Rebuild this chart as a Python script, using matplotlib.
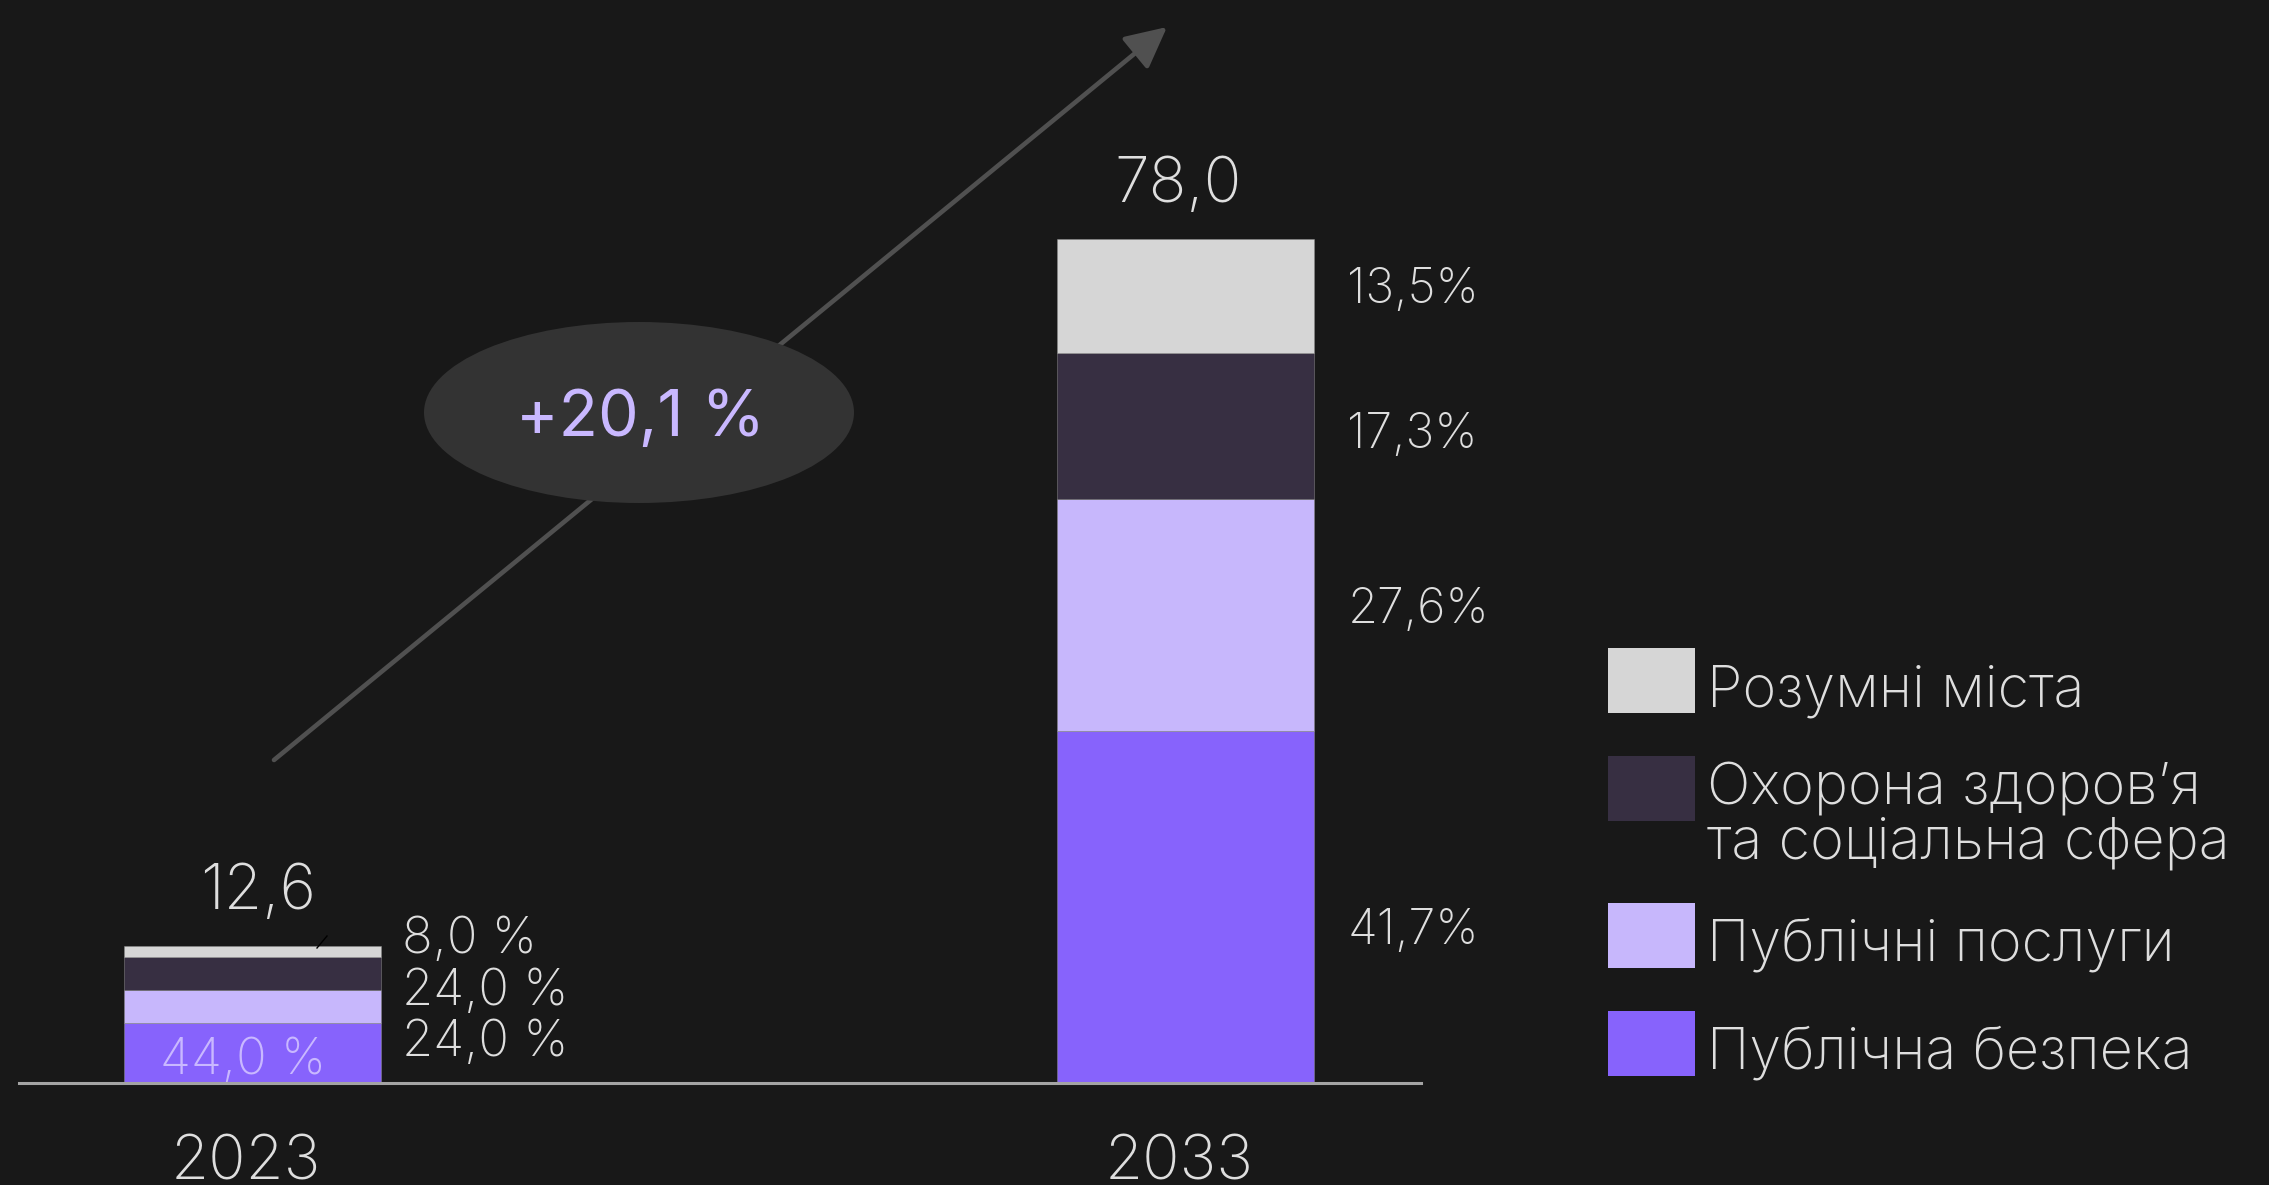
import matplotlib
matplotlib.use("Agg")
import numpy as np
import matplotlib.pyplot as plt
from matplotlib.patches import Ellipse, Rectangle, FancyArrowPatch

## chart data
years = ["2023", "2033"]
totals = [12.6, 78.0]
segments = ["Публічна безпека", "Публічні послуги",
            "Охорона здоров’я\nта соціальна сфера", "Розумні міста"]
shares_2023 = [44.0, 24.0, 24.0, 8.0]
shares_2033 = [41.7, 27.6, 17.3, 13.5]
growth_label = "+20,1 %"

colors = ["#8763fc", "#c7b7fc", "#372f42", "#d6d6d6"]
bg = "#181818"
txt = "#dedede"
lilac = "#c9b8ff"

plt.rcParams['font.family'] = ['Inter', 'DejaVu Sans']

def fmt(v):
    return f"{v:.1f}".replace(".", ",")

## layout in pixels of the 2269x1185 canvas
W, H = 2269, 1185
PT = 0.72                    # points per pixel at dpi 100
base_px = 1082.5             # y of the bar baseline (from top)
ppu = 10.8                   # pixels per value unit
x0_px, x1_px = 252, 1185     # centres of the two bars
unit = x1_px - x0_px
bar_w = 257 / unit

fig = plt.figure(figsize=(W / 100, H / 100), dpi=100)
fig.patch.set_facecolor(bg)
ax = fig.add_axes([0, 0, 1, 1])
ax.set_facecolor(bg)
ax.axis('off')
ax.set_xlim(-x0_px / unit, (W - x0_px) / unit)
ax.set_ylim(-(H - base_px) / ppu, base_px / ppu)

def px(x, y):
    return ((x - x0_px) / unit, (base_px - y) / ppu)

xs = np.arange(len(years))
shares = np.array([shares_2023, shares_2033]).T   # rows = segments
totals_arr = np.array(totals)

## stacked bars
bottoms = np.zeros(len(years))
mids = []
for i, name in enumerate(segments):
    vals = totals_arr * shares[i] / 100
    ax.bar(xs, vals, width=bar_w, bottom=bottoms, color=colors[i],
           edgecolor=(0.55, 0.55, 0.55, 0.5), linewidth=0.7, zorder=2)
    mids.append(bottoms + vals / 2)
    bottoms = bottoms + vals

## baseline
ax.axhline(0, xmin=19 / W, xmax=1421 / W, color="#a4a4a4", lw=2.2, zorder=3)

## totals above bars
total_dx = [6, -7]
for i, t in enumerate(totals):
    ax.annotate(fmt(t), (xs[i], bottoms[i]), xytext=(total_dx[i] * PT, 37 * PT),
                textcoords='offset points', ha='center', va='baseline',
                fontsize=45, color=txt, fontweight='light')

## year labels
for i, y in enumerate(years):
    ax.text(xs[i] - 6 / unit, px(0, 1180)[1], y, ha='center', va='baseline',
            fontsize=44.5, color=txt, fontweight='light')

## 2033 share labels
adj_2033 = [20, -9, 5, -10]
for i in range(len(segments)):
    ax.annotate(fmt(shares_2033[i]) + "%", (xs[1] + bar_w / 2, mids[i][1]),
                xytext=(34 * PT, -(17 + adj_2033[i]) * PT),
                textcoords='offset points', ha='left', va='baseline',
                fontsize=35, color=txt, fontweight='light')

## 2023 share labels (stacked to the right of the short bar)
for k, i in enumerate([3, 2, 1]):
    ax.annotate(fmt(shares_2023[i]) + " %", (xs[0] + bar_w / 2, totals[0]),
                xytext=(21 * PT, -(7 + 51.5 * k) * PT),
                textcoords='offset points', ha='left', va='baseline',
                fontsize=36.5, color=txt, fontweight='light')
ax.annotate(fmt(shares_2023[0]) + " %", (xs[0], 0),
            xytext=(-9 * PT, 8.5 * PT), textcoords='offset points',
            ha='center', va='baseline', fontsize=36.5, color=lilac,
            fontweight='light', zorder=4)

## small leader tick on the 2023 bar
ax.plot(*zip(px(317, 948), px(327, 936)), color="black", lw=1, zorder=4)

## growth arrow and bubble
arrow = FancyArrowPatch(px(274, 760), px(1167, 27),
                        arrowstyle=f"-|>,head_length={35 * PT},head_width={17.5 * PT}",
                        mutation_scale=1, color="#505050", lw=4.6 * PT,
                        shrinkA=0, shrinkB=0, zorder=1)
ax.add_patch(arrow)
ax.add_patch(Ellipse(px(639, 412.5), width=430 / unit, height=181 / ppu,
                     facecolor="#333333", edgecolor="none", zorder=5))
ax.text(*px(640, 436), growth_label, ha='center', va='baseline',
        fontsize=46.5, color=lilac, zorder=6)

## legend (top to bottom); baseline given for the last line of each label
leg_order = [3, 2, 1, 0]
sq_tops = [648, 756, 903, 1011]
txt_base = [707, 859, 961, 1069]
for k, i in enumerate(leg_order):
    x, y = px(1608, sq_tops[k] + 65)
    ax.add_patch(Rectangle((x, y), 87 / unit, 65 / ppu,
                           facecolor=colors[i], edgecolor="none"))
    ax.text(*px(1707, txt_base[k]), segments[i], ha='left', va='baseline',
            fontsize=41.5, color=txt, fontweight='light', linespacing=1.0)

fig.savefig("out.png", dpi=100, facecolor=bg)
